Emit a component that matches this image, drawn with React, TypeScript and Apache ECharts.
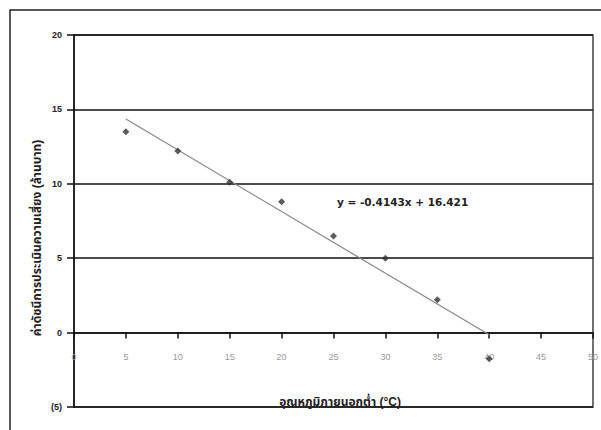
import React, { useEffect, useRef } from "react";
import * as echarts from "echarts";

const temps = [5, 10, 15, 20, 25, 30, 35, 40];
const values = [13.5, 12.2, 10.1, 8.8, 6.5, 5.0, 2.2, -1.75];
const slope = -0.4143;
const intercept = 16.421;
const trendX = [5, 40];
const equationLabel = "y = -0.4143x + 16.421";
const xTitle = "อุณหภูมิภายนอกต่ำ (°C)";
const yTitle = "ค่าดัชนีการประเมินความเสี่ยง (ล้านบาท)";

const FONT = "'Liberation Sans', Arial, 'Noto Sans Thai', sans-serif";
const WIDE = "'DejaVu Sans', 'Noto Sans Thai', sans-serif";

export default function App() {
  const ref = useRef<HTMLDivElement>(null);
  useEffect(() => {
    if (!ref.current) return;
    const chart = echarts.init(ref.current, undefined, { renderer: "svg" });
    const trendData = trendX.map((x) => [x, slope * x + intercept]);
    chart.setOption({
      animation: false,
      backgroundColor: "#fff",
      grid: {
        left: 74,
        top: 35,
        right: 4,
        bottom: 23,
        show: true,
        borderColor: "#444",
        borderWidth: 1.5,
        backgroundColor: "transparent",
      },
      xAxis: {
        type: "value",
        min: 0,
        max: 50,
        interval: 5,
        position: "bottom",
        offset: -74.4,
        axisLine: { onZero: false, lineStyle: { color: "#111", width: 1.5 } },
        axisTick: { show: true, length: 6, lineStyle: { color: "#111", width: 1.5 } },
        axisLabel: { color: "#999", fontSize: 9, margin: 20, fontFamily: FONT },
        splitLine: { show: false },
      },
      yAxis: {
        type: "value",
        min: -5,
        max: 20,
        interval: 5,
        axisLine: { show: true, lineStyle: { color: "#111", width: 1.5 } },
        axisTick: { show: true, length: 7, lineStyle: { color: "#111", width: 1.5 } },
        axisLabel: {
          color: "#222",
          fontSize: 9,
          fontWeight: "bold",
          margin: 12,
          fontFamily: FONT,
          formatter: (v: number) => (v < 0 ? `(${-v})` : `${v}`),
        },
        splitLine: { show: true, lineStyle: { color: "#111", width: 1.5 } },
      },
      series: [
        {
          type: "line",
          data: trendData,
          symbol: "none",
          lineStyle: { color: "#888", width: 1.2 },
          z: 2,
        },
        {
          type: "scatter",
          data: temps.map((t, i) => [t, values[i]]),
          symbol: "diamond",
          symbolSize: 7,
          itemStyle: { color: "#333" },
          z: 3,
        },
      ],
      graphic: [
        {
          type: "rect",
          shape: { x: 10, y: 10, width: 600, height: 440 },
          style: { fill: "none", stroke: "#222", lineWidth: 1.5 },
          z: 10,
        },
        {
          type: "text",
          x: 337,
          y: 202,
          style: {
            text: equationLabel,
            fontSize: 10.5,
            fontWeight: "bold",
            fill: "#222",
            fontFamily: WIDE,
            verticalAlign: "middle",
          },
          z: 10,
        },
        {
          type: "text",
          x: 340,
          y: 408,
          style: {
            text: xTitle,
            fontSize: 12,
            fontWeight: "bold",
            fill: "#222",
            fontFamily: FONT,
            align: "center",
            verticalAlign: "bottom",
          },
          z: 10,
        },
        {
          type: "text",
          x: 37,
          y: 238,
          rotation: Math.PI / 2,
          style: {
            text: yTitle,
            fontSize: 12,
            fontWeight: "bold",
            fill: "#222",
            fontFamily: FONT,
            align: "center",
            verticalAlign: "middle",
          },
          z: 10,
        },
      ],
    });
    return () => chart.dispose();
  }, []);
  return (
    <div
      ref={ref}
      style={{ position: "fixed", left: 0, top: 0, width: 601, height: 430 }}
    />
  );
}
